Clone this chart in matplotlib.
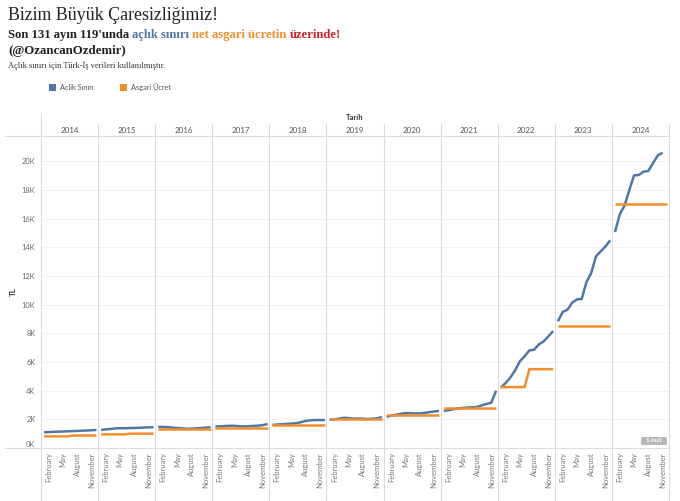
import matplotlib
matplotlib.use('Agg')
import matplotlib.pyplot as plt
from matplotlib.lines import Line2D
from matplotlib.patches import Rectangle, FancyBboxPatch
import numpy as np

# monthly values, thousands of TL
years = [2014, 2015, 2016, 2017, 2018, 2019, 2020, 2021, 2022, 2023, 2024]
aclik = {
    2014: [1.10, 1.11, 1.13, 1.14, 1.15, 1.16, 1.18, 1.19, 1.21, 1.22, 1.24, 1.26],
    2015: [1.26, 1.30, 1.33, 1.37, 1.38, 1.38, 1.39, 1.40, 1.41, 1.43, 1.44, 1.45],
    2016: [1.48, 1.47, 1.45, 1.42, 1.40, 1.37, 1.34, 1.35, 1.37, 1.39, 1.42, 1.45],
    2017: [1.50, 1.51, 1.53, 1.55, 1.55, 1.52, 1.51, 1.52, 1.54, 1.56, 1.60, 1.67],
    2018: [1.61, 1.64, 1.66, 1.68, 1.70, 1.73, 1.80, 1.89, 1.93, 1.95, 1.95, 1.95],
    2019: [1.98, 2.00, 2.05, 2.11, 2.09, 2.05, 2.05, 2.05, 2.02, 2.05, 2.07, 2.16],
    2020: [2.18, 2.25, 2.32, 2.39, 2.43, 2.43, 2.41, 2.41, 2.45, 2.50, 2.55, 2.59],
    2021: [2.59, 2.64, 2.70, 2.75, 2.80, 2.82, 2.84, 2.86, 2.98, 3.07, 3.16, 4.00],
    2022: [4.21, 4.53, 4.91, 5.42, 6.05, 6.40, 6.81, 6.86, 7.23, 7.44, 7.79, 8.16],
    2023: [8.84, 9.49, 9.65, 10.14, 10.37, 10.40, 11.58, 12.21, 13.37, 13.72, 14.07, 14.49],
    2024: [15.07, 16.30, 16.91, 17.98, 19.02, 19.05, 19.28, 19.33, 19.88, 20.42, 20.60, np.nan],
}
# net minimum wage: first half, second half of the year
asgari = {
    2014: (0.81, 0.87), 2015: (0.95, 1.00), 2016: (1.30, 1.30), 2017: (1.40, 1.40),
    2018: (1.60, 1.60), 2019: (2.02, 2.02), 2020: (2.32, 2.32), 2021: (2.80, 2.80),
    2022: (4.25, 5.50), 2023: (8.51, 8.51), 2024: (17.00, 17.00),
}
months = list(range(12))
tick_months = [1, 4, 7, 10]
tick_names = ['February', 'May', 'August', 'November']
yticks = [0, 2, 4, 6, 8, 10, 12, 14, 16, 18, 20]

BLUE = '#4e79a7'
ORANGE = '#f28e2b'
RED = '#d0202e'
GRID = '#dcdcdc'

W, H = 680, 501
fig = plt.figure(figsize=(W / 100, H / 100), dpi=100)
plt.rcParams['font.family'] = ['Lato', 'DejaVu Sans']

def fx(px):
    return px / W

def fy(py):
    return 1 - py / H

left, right, top, bottom = 41, 669, 136, 448
pw = (right - left) / len(years)

axes = []
for i, yr in enumerate(years):
    ax = fig.add_axes([fx(left + i * pw), fy(bottom), fx(pw), (bottom - top) / H])
    axes.append(ax)
    ax.set_xlim(-0.65, 11.35)
    ax.set_ylim(0, 21.77)
    for s in ax.spines.values():
        s.set_visible(False)
    for yv in yticks[1:]:
        ax.axhline(yv, color='#f2f2f2', lw=0.7, zorder=0)
    h1, h2 = asgari[yr]
    wage = [h1] * 6 + [h2] * 6
    ax.plot(months, aclik[yr], color=BLUE, lw=1.8, solid_capstyle='butt', zorder=3)
    ax.plot(months, wage, color=ORANGE, lw=1.8, solid_capstyle='butt', zorder=4)
    ax.set_xticks(tick_months)
    ax.set_xticklabels(tick_names, rotation=90, fontsize=5.5, color='#7a7a7a', va='top')
    ax.tick_params(axis='x', length=0, pad=3)
    ax.set_yticks(yticks)
    if i == 0:
        ax.set_yticklabels([f'{v}K' for v in yticks], fontsize=5.4, color='#6a6a6a')
        ax.tick_params(axis='y', length=0, pad=4)
        ax.get_yticklabels()[0].set_va('bottom')
    else:
        ax.tick_params(axis='y', length=0, labelleft=False)
    fig.text(fx(left + (i + 0.5) * pw), fy(130.5), str(yr), ha='center', va='center',
             fontsize=5.8, color='#555555')

# panel frame
for i in range(len(years) + 1):
    x = left + i * pw
    y0 = 113 if i == 0 else 124
    fig.add_artist(Line2D([fx(x), fx(x)], [fy(y0), fy(500)], color=GRID, lw=0.8))
for yl in (136, 448):
    fig.add_artist(Line2D([fx(5), fx(right)], [fy(yl), fy(yl)], color=GRID, lw=0.8))

fig.text(fx((left + right) / 2), fy(118), 'Tarih', ha='center', va='center',
         fontsize=5.5, fontweight='bold', color='#333333')
fig.text(fx(13), fy(292), 'TL', rotation=90, ha='center', va='center',
         fontsize=5.8, fontweight='bold', color='#333333')

# null indicator
fig.add_artist(FancyBboxPatch((fx(641), fy(445)), fx(26), 8 / H,
                              boxstyle='round,pad=0,rounding_size=0.003',
                              fc='#b8b8b8', ec='none'))
fig.text(fx(654), fy(441), '1 null', ha='center', va='center', fontsize=4.5,
         color='white', fontweight='bold')

# legend
fig.add_artist(Rectangle((fx(49), fy(91)), fx(7), 7 / H, fc=BLUE, ec='none'))
fig.text(fx(60), fy(87.5), 'Aclik Sınırı', va='center', fontsize=5.3, color='#555555')
fig.add_artist(Rectangle((fx(120), fy(91)), fx(7), 7 / H, fc=ORANGE, ec='none'))
fig.text(fx(131), fy(87.5), 'Asgari Ücret', va='center', fontsize=5.3, color='#555555')

# titles
serif = ['Liberation Serif', 'DejaVu Serif']
fig.text(fx(8), fy(20), 'Bizim Büyük Çaresizliğimiz!', family=serif, fontsize=12.9,
         color='#222222', va='baseline')
renderer = fig.canvas.get_renderer()
parts = [('Son 131 ayın 119\'unda ', '#222222'), ('açlık sınırı ', BLUE),
         ('net asgari ücretin ', ORANGE), ('üzerinde!', RED)]
xpos = fx(8)
for txt, col in parts:
    t = fig.text(xpos, fy(38), txt, family=serif, fontsize=9.1, fontweight='bold',
                 color=col, va='baseline')
    bb = t.get_window_extent(renderer=renderer)
    xpos += bb.width / W
fig.text(fx(8), fy(54), '(@OzancanOzdemir)', family=serif, fontsize=9.3,
         fontweight='bold', color='#222222', va='baseline')
fig.text(fx(8), fy(68), 'Açlık sınırı için Türk-İş verileri kullanılmıştır.', family=serif,
         fontsize=6.0, color='#333333', va='baseline')

fig.savefig('out.png', dpi=100)
